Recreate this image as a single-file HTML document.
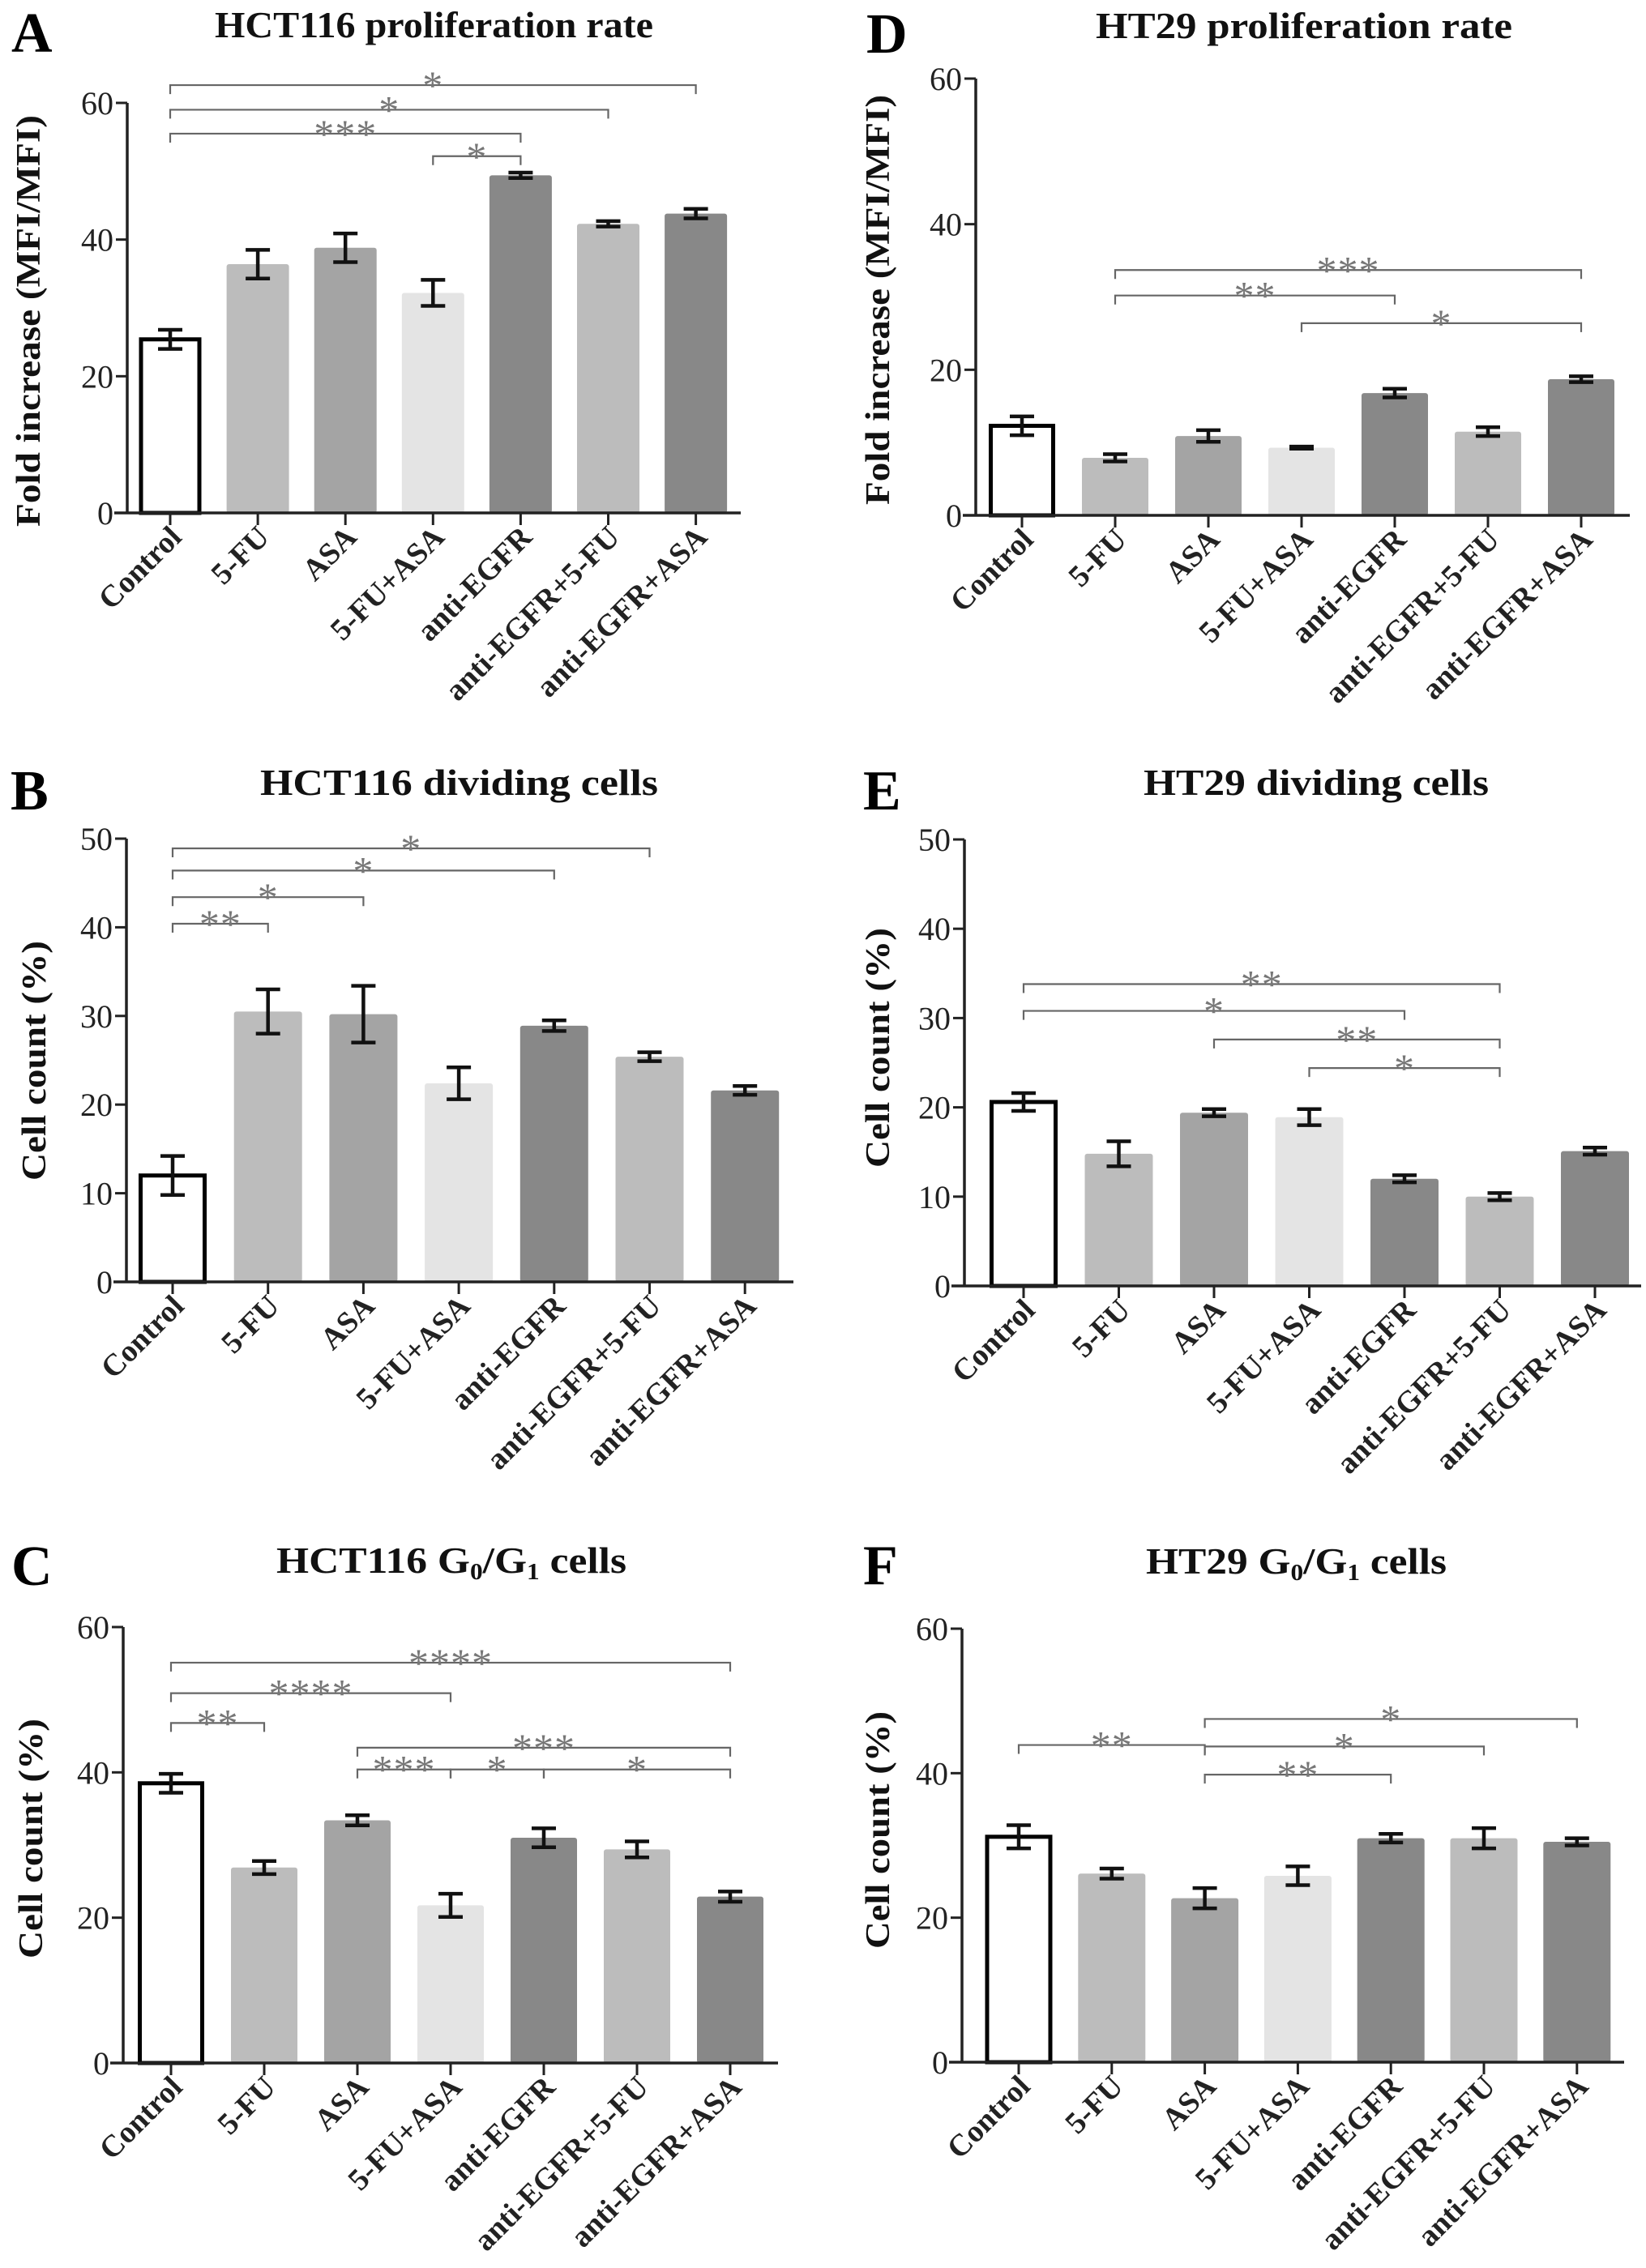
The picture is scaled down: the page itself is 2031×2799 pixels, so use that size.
<!DOCTYPE html>
<html><head><meta charset="utf-8"><style>
html,body{margin:0;padding:0;background:#fff;}
svg{display:block;font-family:"Liberation Serif",serif;}
</style></head><body>
<svg id="fig" width="2031" height="2799" viewBox="0 0 2031 2799" xmlns="http://www.w3.org/2000/svg"></svg>
<script>
const categories = ["Control","5-FU","ASA","5-FU+ASA","anti-EGFR","anti-EGFR+5-FU","anti-EGFR+ASA"];
const barFills = ["#ffffff","#bcbcbc","#a4a4a4","#e4e4e4","#888888","#bcbcbc","#888888"];

const valuesA = [25.4, 36.4, 38.8, 32.2, 49.4, 42.3, 43.8];
const errA    = [1.4, 2.1, 2.1, 1.9, 0.4, 0.4, 0.7];
const bracketsA = [[0,6,62.6,"*"],[0,5,59.0,"*"],[0,4,55.5,"***"],[3,4,52.2,"*"]];

const valuesB = [12.0, 30.5, 30.2, 22.4, 28.9, 25.4, 21.6];
const errB    = [2.2, 2.5, 3.2, 1.8, 0.6, 0.5, 0.5];
const bracketsB = [[0,5,48.9,"*"],[0,4,46.4,"*"],[0,2,43.4,"*"],[0,1,40.4,"**"]];

const valuesC = [38.5, 26.9, 33.4, 21.7, 31.0, 29.4, 22.9];
const errC    = [1.3, 0.9, 0.7, 1.6, 1.3, 1.1, 0.7];
const bracketsC = [[0,6,55.1,"****"],[0,3,50.9,"****"],[0,1,46.8,"**"],[2,6,43.4,"***"],[2,3,40.4,"***"],[3,4,40.4,"*"],[4,6,40.4,"*"]];

const valuesD = [12.3, 7.9, 10.9, 9.3, 16.8, 11.5, 18.7];
const errD    = [1.3, 0.5, 0.8, 0.15, 0.6, 0.6, 0.4];
const bracketsD = [[1,6,33.7,"***"],[1,4,30.2,"**"],[3,6,26.4,"*"]];

const valuesE = [20.6, 14.8, 19.4, 18.9, 12.0, 10.0, 15.1];
const errE    = [1.0, 1.4, 0.4, 0.9, 0.4, 0.4, 0.4];
const bracketsE = [[0,5,33.8,"**"],[0,4,30.8,"*"],[2,5,27.6,"**"],[3,5,24.4,"*"]];

const valuesF = [31.2, 26.1, 22.7, 25.8, 31.0, 31.0, 30.5];
const errF    = [1.6, 0.7, 1.4, 1.3, 0.6, 1.4, 0.5];
const bracketsF = [[0,2,43.9,"**"],[2,6,47.5,"*"],[2,5,43.7,"*"],[2,4,39.8,"**"]];

const yTicks60 = [0,20,40,60];
const yTicks50 = [0,10,20,30,40,50];

const NS = "http://www.w3.org/2000/svg";
const svg = document.getElementById("fig");
function mk(tag, attrs, parent, text){
  const e = document.createElementNS(NS, tag);
  for (const k in attrs) e.setAttribute(k, attrs[k]);
  if (text !== undefined) e.textContent = text;
  (parent||svg).appendChild(e);
  return e;
}

function panel(cfg){
  const g = mk("g", {});
  
  
  const yScale = v => cfg.y0 - (v / cfg.ymax) * (cfg.y0 - cfg.yTop);
  const xScale = i => cfg.first + i * cfg.step;

  const lt = mk("text", {x: cfg.lx, y: cfg.ly, "font-size": 70, "font-weight": "bold", fill: "#000"}, g, cfg.letter);
  
  

  const tt = mk("text", {x: (cfg.tx1 + cfg.tx2)/2, y: cfg.ty, "font-size": 46, "font-weight": "bold", "text-anchor": "middle", textLength: cfg.tx2 - cfg.tx1, lengthAdjust: "spacingAndGlyphs", fill: "#111"}, g);
  
  
  if (cfg.sub) {
    mk("tspan", {}, tt, cfg.title + " G");
    mk("tspan", {"font-size": 28, dy: 8}, tt, "0");
    mk("tspan", {dy: -8}, tt, "/G");
    mk("tspan", {"font-size": 28, dy: 8}, tt, "1");
    mk("tspan", {dy: -8}, tt, " cells");
  } else {
    tt.textContent = cfg.title;
  }

  const yt = mk("text", {transform: `translate(${cfg.yx},${(cfg.yy1+cfg.yy2)/2}) rotate(-90)`, "font-size": 42, "font-weight": "bold", "text-anchor": "middle", "dominant-baseline": "central", textLength: cfg.yy2 - cfg.yy1, lengthAdjust: "spacingAndGlyphs", fill: "#111"}, g, cfg.ytitle);
  
  

  cfg.values.forEach((v, i) => {
    const cx = xScale(i), y = yScale(v);
    let r;
    if (i === 0) {
      r = mk("rect", {x: cx - cfg.bw/2 + 2.5, y: y, width: cfg.bw - 5, height: cfg.y0 - y, fill: "#fff", stroke: "#000", "stroke-width": 5}, g);
    } else {
      r = mk("rect", {x: cx - cfg.bw/2, y: y, width: cfg.bw, height: cfg.y0 - y, fill: barFills[i], rx: 3}, g);
    }
    
    
    const e = cfg.err[i];
    const yh = yScale(v + e), yl = yScale(v - e);
    const eb = mk("path", {d: `M${cx-15},${yh}H${cx+15}M${cx},${yh}V${yl}M${cx-15},${yl}H${cx+15}`, stroke: "#111", "stroke-width": 4.5, fill: "none"}, g);
    
    
  });

  const ya = mk("line", {x1: cfg.x0, y1: cfg.yTop, x2: cfg.x0, y2: cfg.y0, stroke: "#222", "stroke-width": 3.5}, g);
  
  
  const xa = mk("line", {x1: cfg.x0 - 16, y1: cfg.y0, x2: cfg.xEnd, y2: cfg.y0, stroke: "#222", "stroke-width": 3.5}, g);
  
  

  cfg.ticks.forEach(t => {
    const y = yScale(t);
    mk("line", {x1: cfg.x0 - 14, y1: y, x2: cfg.x0, y2: y, stroke: "#222", "stroke-width": 3}, g);
    const tl = mk("text", {x: cfg.x0 - 17, y: y + 14, "font-size": 40, "text-anchor": "end", fill: "#222"}, g, String(t));
    
    
  });

  categories.forEach((c, i) => {
    const cx = xScale(i);
    mk("line", {x1: cx, y1: cfg.y0, x2: cx, y2: cfg.y0 + 15, stroke: "#222", "stroke-width": 3}, g);
    const xl = mk("text", {transform: `translate(${cx + 16},${cfg.y0 + 32}) rotate(-45)`, "font-size": 38, "font-weight": "bold", "text-anchor": "end", fill: "#222"}, g, c);
    
    
  });

  cfg.brackets.forEach(b => {
    const xa1 = xScale(b[0]), xb1 = xScale(b[1]), y = yScale(b[2]);
    const p = mk("path", {d: `M${xa1},${y+11}V${y}H${xb1}V${y+11}`, stroke: "#666", "stroke-width": 2.2, fill: "none"}, g);
    
    
    const s = mk("text", {x: (xa1 + xb1)/2, y: y + 17, "font-size": 50, "text-anchor": "middle", fill: "#777", "letter-spacing": 1}, g, b[3]);
    
    
  });
}

panel({letter:"A", lx:14, ly:64, title:"HCT116 proliferation rate", tx1:265, tx2:806, ty:46,
  ytitle:"Fold increase (MFI/MFI)", yx:36, yy1:142, yy2:650,
  x0:157, xEnd:914, y0:633, yTop:127, ymax:60, ticks:yTicks60, first:210, step:108.1, bw:77,
  values:valuesA, err:errA, brackets:bracketsA});
panel({letter:"B", lx:13, ly:999, title:"HCT116 dividing cells", tx1:321, tx2:812, ty:981,
  ytitle:"Cell count (%)", yx:43, yy1:1161, yy2:1457,
  x0:156, xEnd:979, y0:1582, yTop:1035, ymax:50, ticks:yTicks50, first:213, step:117.7, bw:84,
  values:valuesB, err:errB, brackets:bracketsB});
panel({letter:"C", lx:14, ly:1956, title:"HCT116", sub:true, tx1:341, tx2:773, ty:1941,
  ytitle:"Cell count (%)", yx:39, yy1:2121, yy2:2417,
  x0:152, xEnd:960, y0:2546, yTop:2008, ymax:60, ticks:yTicks60, first:211, step:115, bw:82,
  values:valuesC, err:errC, brackets:bracketsC});
panel({letter:"D", lx:1069, ly:65, title:"HT29 proliferation rate", tx1:1352, tx2:1866, ty:47,
  ytitle:"Fold increase (MFI/MFI)", yx:1084, yy1:117, yy2:623,
  x0:1204, xEnd:2011, y0:636, yTop:97, ymax:60, ticks:yTicks60, first:1261, step:115, bw:82,
  values:valuesD, err:errD, brackets:bracketsD});
panel({letter:"E", lx:1065, ly:999, title:"HT29 dividing cells", tx1:1411, tx2:1837, ty:981,
  ytitle:"Cell count (%)", yx:1084, yy1:1145, yy2:1441,
  x0:1190, xEnd:2025, y0:1587, yTop:1036, ymax:50, ticks:yTicks50, first:1263, step:117.5, bw:84,
  values:valuesE, err:errE, brackets:bracketsE});
panel({letter:"F", lx:1065, ly:1955, title:"HT29", sub:true, tx1:1414, tx2:1785, ty:1942,
  ytitle:"Cell count (%)", yx:1084, yy1:2112, yy2:2405,
  x0:1187, xEnd:2004, y0:2545, yTop:2010, ymax:60, ticks:yTicks60, first:1257, step:114.8, bw:83,
  values:valuesF, err:errF, brackets:bracketsF});
</script>
</body></html>
